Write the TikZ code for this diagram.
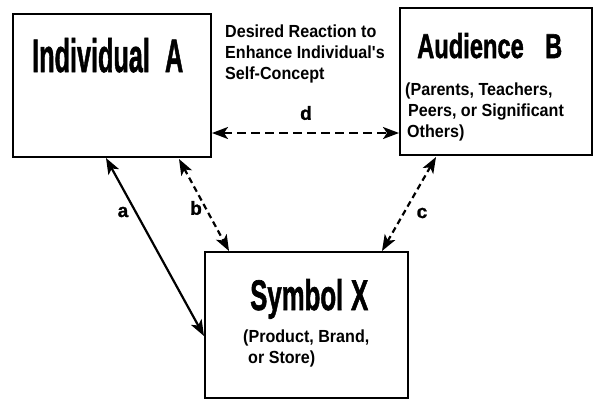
\documentclass[tikz,border=0pt]{standalone}
\usepackage{fontspec}
\setmainfont{Liberation Sans}
\newfontfamily\labelfont[FakeStretch=0.92]{Liberation Sans}
\newfontfamily\heavyfont[FakeBold=1.6]{Liberation Sans}
\newfontfamily\tagfont[FakeBold=1.2]{Liberation Sans}
\usetikzlibrary{arrows.meta}
\tikzset{
  tip/.tip={Stealth[length=16pt,width=12pt,inset=4pt]},
  box/.style={draw, line width=2pt, inner sep=0pt, minimum width=#1},
  title/.style={inner sep=0pt, anchor=base west},
  note/.style={inner sep=0pt, anchor=north west, align=left,
    font=\labelfont\bfseries\fontsize{17.5}{21}\selectfont},
  tag/.style={inner sep=0pt, font=\tagfont\bfseries\fontsize{19}{20}\selectfont},
  link/.style={line width=2.2pt, tip-tip},
  dlink/.style={link, dash pattern=on 6pt off 4pt},
}
\begin{document}
\begin{tikzpicture}[x=1pt,y=-1pt]
\useasboundingbox (0,0) rectangle (594,400);

% boxes
\node[box=198pt, minimum height=143pt] (A) at (112,85.5) {};
\node[box=192pt, minimum height=147pt] (B) at (496,81.5) {};
\node[box=203pt, minimum height=146pt] (X) at (306.5,325) {};

% box titles
\node[title] (tA) at (32,72) {\resizebox{151pt}{34pt}{\heavyfont\bfseries Individual\hspace{0.6em}A}};
\node[title] (tB) at (417,58) {\resizebox{145pt}{25pt}{\heavyfont\bfseries Audience\hspace{0.9em}B}};
\node[title] (tX) at (250,310) {\resizebox{118pt}{31pt}{\heavyfont\bfseries Symbol\hspace{0.3em}X}};

% descriptive texts
\node[note] (goal) at (225,25) {Desired Reaction to\\Enhance Individual's\\Self-Concept};
\node[note] (audlist) at (405,83) {(Parents, Teachers,\\\hspace*{3pt}Peers, or Significant\\\hspace*{2pt}Others)};
\node[note] (symlist) at (243,330) {(Product, Brand,\\\hspace*{5pt}or Store)};

% relations
\draw[link]  ([xshift=94pt]A.south west) -- ([yshift=-85pt]X.north west);
\draw[dlink] ([xshift=167pt,yshift=-1pt]A.south west) -- ([xshift=25pt]X.north west);
\draw[dlink] ([xshift=37pt,yshift=-1pt]B.south west) -- ([xshift=178pt]X.north west);
\draw[dlink, dash pattern=on 9pt off 5pt] ([yshift=25pt]A.south east) -- ([yshift=23pt]B.south west);

% relation labels
\node[tag] (la) at (123,212) {a};
\node[tag] (lb) at (196,208) {b};
\node[tag] (lc) at (422,213) {c};
\node[tag] (ld) at (306,113) {d};
\end{tikzpicture}
\end{document}
